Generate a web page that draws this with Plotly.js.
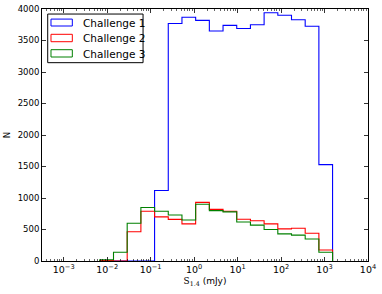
<!DOCTYPE html>
<html>
<head>
<meta charset="utf-8">
<script src="https://cdn.plot.ly/plotly-3.0.1.min.js"></script>
<style>html,body{margin:0;padding:0;background:#fff}#chart{width:382px;height:294px}</style>
</head>
<body>
<div id="chart"></div>
<script>
// log10 of the histogram bin edges (S_1.4 in mJy)
const binEdgesLog = [-2.17, -1.855, -1.54, -1.225, -0.91, -0.595, -0.28, 0.035, 0.35, 0.665, 0.98, 1.295, 1.61, 1.925, 2.24, 2.555, 2.87, 3.185];
const seriesNames = ["Challenge 1", "Challenge 2", "Challenge 3"];
const challenge1 = [0, 0, 0, 0, 1120, 3770, 3870, 3820, 3650, 3740, 3690, 3750, 3940, 3900, 3830, 3725, 1530];
const challenge2 = [8, 0, 465, 790, 700, 660, 590, 930, 820, 790, 662, 640, 590, 510, 520, 440, 175];
const challenge3 = [20, 140, 600, 850, 790, 730, 650, 900, 800, 780, 620, 570, 500, 430, 410, 350, 140];
const xTickExp = [-3, -2, -1, 0, 1, 2, 3, 4];
const yTickVals = [0, 500, 1000, 1500, 2000, 2500, 3000, 3500, 4000];
const colors = ["#0000ff", "#ff0000", "#008000"];

function stepTrace(counts, color, name) {
  const edges = binEdgesLog.map(v => Math.pow(10, v));
  const x = [edges[0]];
  const y = [0];
  for (let i = 0; i < counts.length; i++) { x.push(edges[i]); y.push(counts[i]); }
  x.push(edges[edges.length - 1]); y.push(0);
  return {x, y, type: "scatter", mode: "lines", name,
    line: {color, width: 1.1, shape: "hv"}, showlegend: false, hoverinfo: "skip"};
}

const traces = [
  stepTrace(challenge1, colors[0], seriesNames[0]),
  stepTrace(challenge2, colors[1], seriesNames[1]),
  stepTrace(challenge3, colors[2], seriesNames[2])
];

const minorVals = [];
for (let e = -4; e < 4; e++) for (let m = 2; m <= 9; m++) minorVals.push(m * Math.pow(10, e));

const shapes = [{type: "rect", xref: "paper", yref: "paper", x0: 0.0175, x1: 0.31, y0: 0.787, y1: 0.980,
  line: {color: "#000", width: 1}, fillcolor: "#fff"}];
const annotations = [];
const rowY = [[0.9325, 0.960, 0.9464], [0.8702, 0.8996, 0.885], [0.8095, 0.8385, 0.8234]];
for (let i = 0; i < 3; i++) {
  shapes.push({type: "rect", xref: "paper", yref: "paper", x0: 0.0276, x1: 0.093, y0: rowY[i][0], y1: rowY[i][1],
    line: {color: colors[i], width: 1}, fillcolor: "rgba(0,0,0,0)"});
  annotations.push({xref: "paper", yref: "paper", x: 0.1196, y: rowY[i][2], xanchor: "left", yanchor: "middle",
    text: seriesNames[i], showarrow: false, font: {family: "DejaVu Sans", size: 10.5, color: "#000"}});
}

const layout = {
  width: 382, height: 294,
  margin: {l: 42, r: 14, t: 9, b: 33, pad: 0},
  paper_bgcolor: "#fff", plot_bgcolor: "#fff",
  font: {family: "DejaVu Sans", size: 8.5, color: "#000"},
  showlegend: false,
  xaxis: {
    type: "log", range: [-3.5, 4.0],
    tickmode: "array", tickvals: xTickExp.map(e => Math.pow(10, e)),
    ticktext: xTickExp.map(e => "10<sup>" + (e < 0 ? "\u2212" + (-e) : e) + "</sup>"),
    tickfont: {size: 9.5},
    ticks: "inside", ticklen: 4, tickcolor: "#000", tickwidth: 0.8,
    minor: {tickmode: "array", tickvals: minorVals, ticks: "inside", ticklen: 2, tickcolor: "#000", tickwidth: 0.6},
    showline: true, linecolor: "#000", linewidth: 1, mirror: "allticks",
    showgrid: false, zeroline: false,
    title: {text: "<span style=\"font-family:'DejaVu Serif'\">S<sub>1.4</sub></span> (mJy)", font: {size: 9}, standoff: 3}
  },
  yaxis: {
    range: [0, 4000],
    tickmode: "array", tickvals: yTickVals,
    tickfont: {size: 8.5},
    ticks: "inside", ticklen: 4, tickcolor: "#000", tickwidth: 0.8,
    showline: true, linecolor: "#000", linewidth: 1, mirror: "allticks",
    showgrid: false, zeroline: false,
    title: {text: "N", font: {size: 8.5}, standoff: 5}
  },
  shapes, annotations
};

Plotly.newPlot("chart", traces, layout, {staticPlot: true, displayModeBar: false});
</script>
</body>
</html>
